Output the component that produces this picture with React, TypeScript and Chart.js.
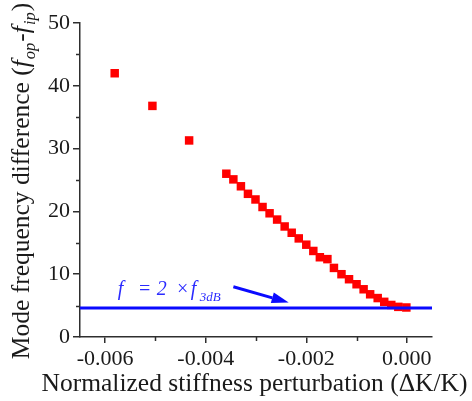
import React, { useEffect, useRef } from 'react';
import { Chart, registerables } from 'chart.js';

Chart.register(...registerables);

// ---- data ----
const perturbation = [
  -0.00581, -0.00506, -0.00433,
  -0.00359, -0.00345, -0.00330, -0.00316, -0.00301, -0.00287, -0.00273, -0.00258,
  -0.00243, -0.00229, -0.00215, -0.00200, -0.00186, -0.00173, -0.00158, -0.00145,
  -0.00130, -0.00115, -0.00100, -0.00086, -0.00073, -0.00058, -0.00045, -0.00031,
  -0.00017, -0.00001,
];
const freqDiff = [
  42.0, 36.8, 31.3,
  26.0, 25.1, 24.0, 22.8, 21.9, 20.7, 19.7, 18.7,
  17.6, 16.6, 15.7, 14.7, 13.7, 12.7, 12.4, 11.0,
  10.0, 9.2, 8.4, 7.6, 6.8, 6.2, 5.6, 5.1,
  4.8, 4.7,
];
const thresholdValue = 4.6;
const xRange = [-0.0065, 0.0005];
const yRange = [0, 50];
const xMajorTicks = [-0.006, -0.004, -0.002, 0];
const xMinorTicks = [-0.005, -0.003, -0.001];
const yMajorTicks = [0, 10, 20, 30, 40, 50];
const yMinorTicks = [5, 15, 25, 35, 45];
const arrowFrom = { x: -0.00345, y: 8.0 };
const arrowTo = { x: -0.00235, y: 5.5 };
const labelAnchor = { x: -0.00575, y: 6.7 };

const xTitle = 'Normalized stiffness perturbation (\u0394K/K)';
const SERIF = "'Liberation Serif', 'Times New Roman', Times, serif";

Chart.defaults.font.family = SERIF;

type Run = { t: string; font: string; dy: number; gap?: number };

const yTitleRuns: Run[] = [
  { t: 'Mode frequency difference (', font: `25.5px ${SERIF}`, dy: 0 },
  { t: 'f', font: `italic 25.5px ${SERIF}`, dy: 0, gap: 1 },
  { t: 'op', font: `italic 16.5px ${SERIF}`, dy: 6, gap: 1 },
  { t: '-', font: `25.5px ${SERIF}`, dy: 0 },
  { t: 'f', font: `italic 25.5px ${SERIF}`, dy: 0, gap: 1 },
  { t: 'ip', font: `italic 16.5px ${SERIF}`, dy: 6, gap: 1 },
  { t: ')', font: `25.5px ${SERIF}`, dy: 0 },
];

// annotation pieces with their horizontal offsets (px) from the anchor
const labelRuns = [
  { t: 'f', font: `italic 20px ${SERIF}`, dx: 0, dy: 0 },
  { t: '=', font: `italic 20px ${SERIF}`, dx: 20, dy: 0 },
  { t: '2', font: `italic 20px ${SERIF}`, dx: 39, dy: 0 },
  { t: '\u00d7', font: `italic 20px ${SERIF}`, dx: 58, dy: 0 },
  { t: 'f', font: `italic 20px ${SERIF}`, dx: 73, dy: 0 },
  { t: '3dB', font: `italic 13px ${SERIF}`, dx: 82, dy: 6 },
];

const AXIS = '#2e2e2e';
const TEXT = '#1a1a1a';

const overlayPlugin = {
  id: 'overlay',
  afterDraw(chart: any) {
    const { ctx, chartArea } = chart;
    const xs = chart.scales.x;
    const ys = chart.scales.y;
    ctx.save();

    // minor ticks
    ctx.strokeStyle = AXIS;
    ctx.lineWidth = 1.5;
    xMinorTicks.forEach((v) => {
      const px = Math.round(xs.getPixelForValue(v)) + 0.5;
      ctx.beginPath();
      ctx.moveTo(px, chartArea.bottom);
      ctx.lineTo(px, chartArea.bottom + 4);
      ctx.stroke();
    });
    yMinorTicks.forEach((v) => {
      const py = Math.round(ys.getPixelForValue(v)) + 0.5;
      ctx.beginPath();
      ctx.moveTo(chartArea.left, py);
      ctx.lineTo(chartArea.left - 4, py);
      ctx.stroke();
    });

    // arrow
    const x1 = xs.getPixelForValue(arrowFrom.x);
    const y1 = ys.getPixelForValue(arrowFrom.y);
    const x2 = xs.getPixelForValue(arrowTo.x);
    const y2 = ys.getPixelForValue(arrowTo.y);
    const ang = Math.atan2(y2 - y1, x2 - x1);
    const headLen = 17;
    const headW = 5.5;
    const bx = x2 - headLen * Math.cos(ang);
    const by = y2 - headLen * Math.sin(ang);
    ctx.strokeStyle = '#0a0aff';
    ctx.fillStyle = '#0a0aff';
    ctx.lineWidth = 3;
    ctx.beginPath();
    ctx.moveTo(x1, y1);
    ctx.lineTo(bx, by);
    ctx.stroke();
    ctx.beginPath();
    ctx.moveTo(x2, y2);
    ctx.lineTo(bx + headW * Math.sin(ang), by - headW * Math.cos(ang));
    ctx.lineTo(bx - headW * Math.sin(ang), by + headW * Math.cos(ang));
    ctx.closePath();
    ctx.fill();

    // annotation text
    const ax = xs.getPixelForValue(labelAnchor.x);
    const ay = ys.getPixelForValue(labelAnchor.y);
    ctx.fillStyle = '#2b2bff';
    ctx.textBaseline = 'alphabetic';
    ctx.textAlign = 'left';
    labelRuns.forEach((r) => {
      ctx.font = r.font;
      ctx.fillText(r.t, ax + r.dx, ay + r.dy);
    });

    // x title
    ctx.fillStyle = TEXT;
    ctx.font = `25.5px ${SERIF}`;
    ctx.textAlign = 'center';
    ctx.fillText(xTitle, (chartArea.left + chartArea.right) / 2 - 1.5, 391);

    // y title (rotated)
    ctx.textAlign = 'left';
    let total = 0;
    const widths = yTitleRuns.map((r) => {
      ctx.font = r.font;
      const w = ctx.measureText(r.t).width + (r.gap || 0);
      total += w;
      return w;
    });
    ctx.translate(29, (chartArea.top + chartArea.bottom) / 2 + 1);
    ctx.rotate(-Math.PI / 2);
    let cx = -total / 2;
    yTitleRuns.forEach((r, i) => {
      ctx.font = r.font;
      ctx.fillText(r.t, cx, r.dy);
      cx += widths[i];
    });

    ctx.restore();
  },
};

export default function App() {
  const canvasRef = useRef<HTMLCanvasElement | null>(null);

  useEffect(() => {
    document.body.style.margin = '0';
    const canvas = canvasRef.current;
    if (!canvas) return;

    const chart = new Chart(canvas, {
      type: 'scatter',
      data: {
        datasets: [
          {
            label: 'threshold',
            data: xRange.map((x) => ({ x, y: thresholdValue })),
            showLine: true,
            borderColor: '#0a0aff',
            borderWidth: 3,
            pointRadius: 0,
            order: 0,
          },
          {
            label: 'difference',
            data: perturbation.map((x, i) => ({ x, y: freqDiff[i] })),
            pointStyle: 'rect',
            pointRadius: 6,
            backgroundColor: '#ff0000',
            borderColor: '#ff0000',
            borderWidth: 0,
            order: 1,
          },
        ],
      },
      options: {
        animation: false,
        responsive: false,
        devicePixelRatio: 1,
        layout: { padding: { top: 23, right: 40, left: 0, bottom: 0 } },
        plugins: {
          legend: { display: false },
          tooltip: { enabled: false },
        },
        scales: {
          x: {
            type: 'linear',
            min: xRange[0],
            max: xRange[1],
            afterBuildTicks: (s: any) => {
              s.ticks = xMajorTicks.map((v) => ({ value: v }));
            },
            afterFit: (s: any) => {
              s.height = 64;
            },
            ticks: {
              callback: (v: any) => Number(v).toFixed(3),
              font: { family: SERIF, size: 22 },
              color: TEXT,
              padding: 3,
              maxRotation: 0,
              autoSkip: false,
            },
            grid: {
              drawOnChartArea: false,
              drawTicks: true,
              tickLength: 6,
              color: AXIS,
              lineWidth: 1.5,
            },
            border: { display: true, color: AXIS, width: 1.5 },
          },
          y: {
            type: 'linear',
            min: yRange[0],
            max: yRange[1],
            afterBuildTicks: (s: any) => {
              s.ticks = yMajorTicks.map((v) => ({ value: v }));
            },
            afterFit: (s: any) => {
              s.width = 80;
            },
            ticks: {
              callback: (v: any) => String(v),
              font: { family: SERIF, size: 22 },
              color: TEXT,
              padding: 3,
              autoSkip: false,
            },
            grid: {
              drawOnChartArea: false,
              drawTicks: true,
              tickLength: 7,
              color: AXIS,
              lineWidth: 1.5,
            },
            border: { display: true, color: AXIS, width: 1.5 },
          },
        },
      },
      plugins: [overlayPlugin],
    });

    return () => chart.destroy();
  }, []);

  return (
    <div style={{ width: 472, height: 401, background: '#fff' }}>
      <canvas ref={canvasRef} width={472} height={401} />
    </div>
  );
}
